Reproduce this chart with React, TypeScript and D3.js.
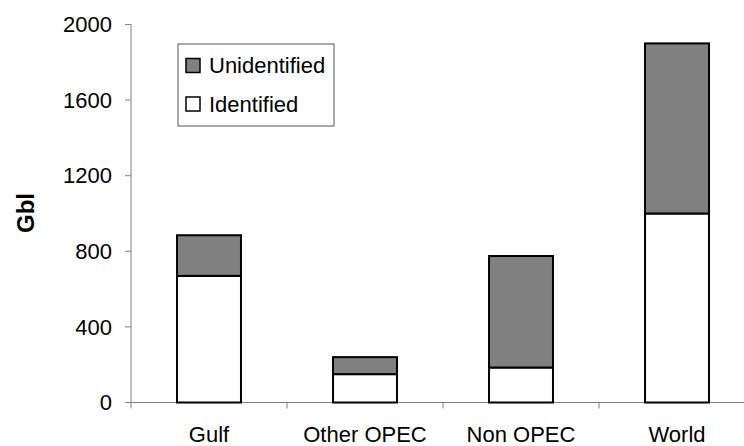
import React from "react";
import * as d3 from "d3";

const categories = ["Gulf", "Other OPEC", "Non OPEC", "World"];
const identified = [670, 150, 185, 1000];
const unidentified = [215, 90, 590, 900];
const yTicks = [0, 400, 800, 1200, 1600, 2000];
const seriesNames = ["Identified", "Unidentified"];
const seriesColors = ["#ffffff", "#808080"];

const W = 744;
const H = 446;
const left = 131;
const right = 755;
const top = 24.5;
const bottom = 402.5;
const font = "'Liberation Sans', Arial, sans-serif";

export default function App() {
  const rows = categories.map((c, i) => ({
    cat: c,
    Identified: identified[i],
    Unidentified: unidentified[i],
  }));
  const stack = d3.stack<any>().keys(seriesNames)(rows);
  const xCat = d3.scaleBand<string>().domain(categories).range([left, right]);
  const xBar = d3
    .scaleBand<string>()
    .domain(categories)
    .range([left, right])
    .paddingInner(0.59)
    .paddingOuter(0.295);
  const y = d3.scaleLinear().domain([0, 2000]).range([bottom, top]);

  const boundaries = categories.slice(1).map((c) => xCat(c) as number);

  const legendItems = [
    { name: "Unidentified", color: seriesColors[1], cy: 65.5 },
    { name: "Identified", color: seriesColors[0], cy: 104 },
  ];

  return (
    <div style={{ position: "fixed", left: 0, top: 0 }}>
      <svg width={W} height={H} style={{ display: "block", background: "#fff" }}>
        {/* axes */}
        <line x1={left} x2={left} y1={y(2000)} y2={bottom + 6} stroke="#808080" strokeWidth={1} />
        <line x1={left - 6} x2={W} y1={bottom} y2={bottom} stroke="#808080" strokeWidth={1} />
        {yTicks.map((t) => (
          <g key={t}>
            <line x1={left - 6} x2={left} y1={y(t)} y2={y(t)} stroke="#808080" strokeWidth={1} />
            <text
              x={112}
              y={y(t)}
              dy="0.35em"
              textAnchor="end"
              fontFamily={font}
              fontSize={22}
              fill="#000"
            >
              {t}
            </text>
          </g>
        ))}
        {boundaries.map((b, i) => (
          <line key={i} x1={b} x2={b} y1={bottom} y2={bottom + 6} stroke="#808080" strokeWidth={1} />
        ))}
        {categories.map((c) => (
          <text
            key={c}
            x={(xCat(c) as number) + xCat.bandwidth() / 2}
            y={442}
            textAnchor="middle"
            fontFamily={font}
            fontSize={22}
            fill="#000"
          >
            {c}
          </text>
        ))}
        <text
          transform={`translate(34,${213}) rotate(-90)`}
          textAnchor="middle"
          fontFamily={font}
          fontSize={24}
          fontWeight="bold"
          fill="#000"
        >
          Gbl
        </text>
        {/* bars */}
        {stack.map((s, si) =>
          s.map((d, i) => (
            <rect
              key={si + "-" + i}
              x={xBar(categories[i])}
              width={xBar.bandwidth()}
              y={y(d[1])}
              height={y(d[0]) - y(d[1])}
              fill={seriesColors[si]}
              stroke="#000"
              strokeWidth={2}
            />
          ))
        )}
        {/* legend */}
        <rect x={178} y={44} width={156} height={82} fill="#fff" stroke="#555" strokeWidth={1} />
        {legendItems.map((l) => (
          <g key={l.name}>
            <rect x={186} y={l.cy - 7} width={14} height={14} fill={l.color} stroke="#000" strokeWidth={1.5} />
            <text x={209} y={l.cy} dy="0.35em" fontFamily={font} fontSize={22} fill="#000">
              {l.name}
            </text>
          </g>
        ))}
      </svg>
    </div>
  );
}
